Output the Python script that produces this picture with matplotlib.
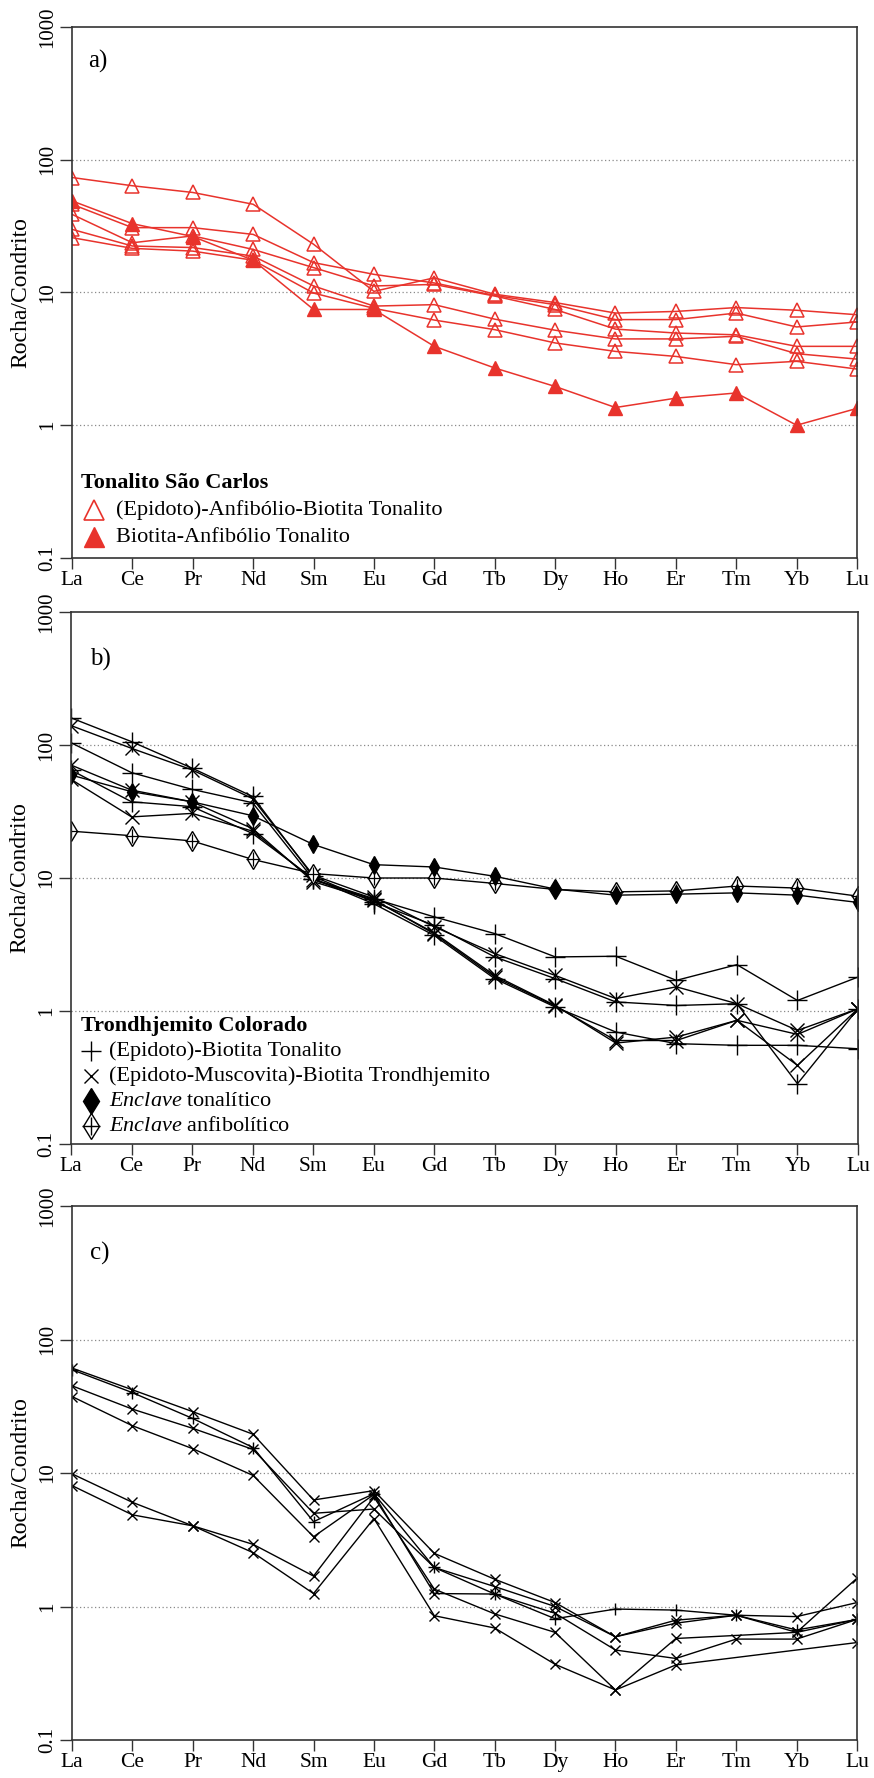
import numpy as np
import matplotlib.pyplot as plt
from matplotlib.ticker import NullLocator

plt.rcParams['font.family'] = ['Liberation Serif', 'DejaVu Serif']
plt.rcParams['mathtext.fontset'] = 'custom'
plt.rcParams['mathtext.rm'] = 'Liberation Serif'
plt.rcParams['mathtext.it'] = 'Liberation Serif:italic'

elements = ['La', 'Ce', 'Pr', 'Nd', 'Sm', 'Eu', 'Gd', 'Tb', 'Dy', 'Ho', 'Er', 'Tm', 'Yb', 'Lu']
yticks = [0.1, 1, 10, 100, 1000]
ytick_labels = ['0.1', '1', '10', '100', '1000']

# a) Tonalito Sao Carlos
a_ep_anf_bt = [
    [73.5, 63.7, 56.7, 46.2, 23.1, 10.2, 12.9, 9.7, 8.4, 7.0, 7.2, 7.7, 7.35, 6.8],
    [46.2, 30.8, 30.8, 27.4, 16.8, 13.7, 11.8, 9.5, 8.1, 6.25, 6.25, 7.0, 5.5, 6.0],
    [38.8, 23.7, 26.7, 21.1, 15.4, 11.2, 11.5, 9.4, 7.45, 5.3, 4.95, 4.8, 3.93, 3.93],
    [29.9, 22.4, 21.8, 18.8, 11.2, 7.9, 8.1, 6.3, 5.2, 4.47, 4.47, 4.68, 3.46, 3.15],
    [25.9, 21.5, 20.5, 17.5, 9.9, 7.6, 6.2, 5.25, 4.17, 3.6, 3.3, 2.86, 3.03, 2.65],
]
a_bt_anf = [
    [49.0, 33.0, 26.4, 17.5, 7.45, 7.45, 3.93, 2.70, 1.96, 1.36, 1.60, 1.75, 1.0, 1.34],
]

# b) Trondhjemito Colorado
b_ep_bt_ton = [
    [104, 62, 46.4, 36.8, 9.8, 7.0, 5.1, 3.82, 2.55, 2.58, 1.70, 2.23, 1.20, 1.80],
    [160, 106, 67, 41, 10.3, 6.6, 4.4, 2.55, 1.75, 1.17, 1.10, 1.135, 0.284, 1.04],
    [64.8, 37.4, 34.4, 21.6, 9.9, 6.4, 3.7, 1.75, 1.07, 0.695, 0.568, 0.552, 0.552, 0.52],
]
b_ep_mu_bt_tdj = [
    [140, 94.4, 65, 39.5, 10.5, 7.2, 4.3, 2.70, 1.85, 1.24, 1.52, 1.135, 0.714, 1.04],
    [70.7, 45.8, 37.4, 23.5, 9.4, 6.8, 3.87, 1.85, 1.10, 0.574, 0.637, 0.851, 0.667, 1.04],
    [55.2, 28.8, 30.6, 22.5, 9.7, 6.9, 3.8, 1.80, 1.09, 0.60, 0.60, 0.851, 0.39, 1.04],
]
b_enc_ton = [59.5, 44.6, 37.4, 29.4, 17.9, 12.6, 12.1, 10.3, 8.25, 7.43, 7.56, 7.73, 7.43, 6.55]
b_enc_anf = [22.5, 20.8, 19.0, 13.8, 10.8, 10.0, 10.0, 9.1, 8.2, 7.87, 8.0, 8.7, 8.4, 7.3]

# c)
nan = np.nan
c_cross = [
    [61.1, 42.0, 28.8, 19.5, 6.28, 7.38, 2.50, 1.60, 1.07, 0.593, 0.75, 0.86, 0.64, 1.63],
    [45.0, 30.1, 21.6, 15.0, 4.99, 5.37, 1.96, 1.41, 1.0, 0.593, 0.79, 0.86, 0.84, 1.07],
    [37.4, 22.6, 15.2, 9.58, 3.33, 6.9, 1.25, 1.24, 0.89, 0.472, 0.408, 0.57, 0.57, 0.80],
    [9.86, 6.03, 4.02, 2.92, 1.69, 6.6, 1.35, 0.88, 0.64, 0.237, 0.576, nan, 0.64, 0.80],
    [8.05, 4.86, 4.02, 2.53, 1.25, 4.56, 0.853, 0.69, 0.369, 0.237, 0.365, nan, nan, 0.537],
]
c_plus = [
    [59.4, 40.0, 25.6, 15.5, 4.32, 7.0, 1.96, 1.24, 0.81, 0.957, 0.94, 0.86, 0.667, 0.80],
]

RED = '#e8332c'
x = np.arange(len(elements))

fig = plt.figure(figsize=(8.74, 17.78), dpi=100)
W, H = 874, 1778


def make_axes(left, right, top, bottom):
    return fig.add_axes([left / W, 1 - bottom / H, (right - left) / W, (bottom - top) / H])


def style_axes(ax):
    ax.set_yscale('log')
    ax.set_xlim(0, len(elements) - 1)
    ax.set_ylim(0.1, 1000)
    ax.set_yticks(yticks)
    ax.set_yticklabels(ytick_labels, rotation=90, va='center', fontsize=15)
    ax.yaxis.set_minor_locator(NullLocator())
    ax.set_xticks(x)
    ax.set_xticklabels(elements, fontsize=15.5, va='center')
    ax.tick_params(axis='x', direction='out', length=8, width=1, pad=8.5, color='#333333')
    ax.tick_params(axis='y', direction='out', length=8.5, width=1, pad=2, color='#333333')
    for s in ax.spines.values():
        s.set_linewidth(1.2)
        s.set_color('#333333')
    for v in [1, 10, 100]:
        ax.axhline(v, color='#8a8a8a', lw=0.9, ls=(0, (1, 2)), zorder=0)
    ax.set_ylabel('Rocha/Condrito', fontsize=17)
    ax.yaxis.set_label_coords(-0.052, 0.5)


def draw_series(ax, values, color, lw, **mk):
    y = np.asarray(values, dtype=float)
    ok = ~np.isnan(y)
    ax.plot(x[ok], y[ok], color=color, lw=lw, **mk)


def legend_block(ax, x0, y0, dy, xm, xt, title, rows, fs):
    ax.text(x0, y0, title, transform=ax.transAxes, fontsize=fs,
            fontweight='bold', ha='left', va='center')
    for i, (styles, label) in enumerate(rows):
        yy = y0 - (i + 1) * dy
        for st in styles:
            ax.plot([xm], [yy], transform=ax.transAxes, clip_on=False, ls='none', **st)
        ax.text(xt, yy, label, transform=ax.transAxes, fontsize=fs, ha='left', va='center')


# ---- a)
ax_a = make_axes(72, 857, 27, 558)
style_axes(ax_a)
open_tri = dict(marker='^', ms=10, mfc='none', mec=RED, mew=1.1)
full_tri = dict(marker='^', ms=10, mfc=RED, mec=RED, mew=1.0)
for s in a_ep_anf_bt:
    draw_series(ax_a, s, RED, 1.1, **open_tri)
for s in a_bt_anf:
    draw_series(ax_a, s, RED, 1.1, **full_tri)
ax_a.text(0.0205, 0.935, 'a)', transform=ax_a.transAxes, fontsize=18, ha='left', va='center')
legend_block(ax_a, 0.0115, 0.141, 0.051, 0.028, 0.056, 'Tonalito São Carlos',
             [([dict(marker='^', ms=15, mfc='none', mec=RED, mew=1.2)],
               '(Epidoto)-Anfibólio-Biotita Tonalito'),
              ([dict(marker='^', ms=15, mfc=RED, mec=RED)],
               'Biotita-Anfibólio Tonalito')], 16)

# ---- b)
ax_b = make_axes(71, 858, 612, 1144)
style_axes(ax_b)
plus_mk = dict(marker='+', ms=14, mec='black', mew=1.0)
cross_mk = dict(marker='x', ms=10, mec='black', mew=1.0)
for s in b_ep_bt_ton:
    draw_series(ax_b, s, 'black', 1.0, **plus_mk)
for s in b_ep_mu_bt_tdj:
    draw_series(ax_b, s, 'black', 1.0, **cross_mk)
draw_series(ax_b, b_enc_anf, 'black', 1.0, marker='d', ms=10, mfc='white', mec='black', mew=1.0)
ax_b.plot(x, b_enc_anf, ls='none', marker='+', ms=10, mec='black', mew=0.9)
draw_series(ax_b, b_enc_ton, 'black', 1.0, marker='d', ms=9, mfc='black', mec='black')
ax_b.text(0.0245, 0.91, 'b)', transform=ax_b.transAxes, fontsize=18, ha='left', va='center')
legend_block(ax_b, 0.0127, 0.2218, 0.047, 0.0254, 0.0483, 'Trondhjemito Colorado',
             [([dict(marker='+', ms=14, mec='black', mew=1.0)], '(Epidoto)-Biotita Tonalito'),
              ([dict(marker='x', ms=10, mec='black', mew=1.0)],
               '(Epidoto-Muscovita)-Biotita Trondhjemito'),
              ([dict(marker='d', ms=13, mfc='black', mec='black'),
                dict(marker='|', ms=15, mec='black', mew=1.0)], r'$\mathit{Enclave}$ tonalítico'),
              ([dict(marker='d', ms=13, mfc='white', mec='black', mew=1.0),
                dict(marker='+', ms=13, mec='black', mew=1.0)], r'$\mathit{Enclave}$ anfibolítico')],
             16)

# ---- c)
ax_c = make_axes(72, 857, 1206, 1740)
style_axes(ax_c)
for s in c_cross:
    draw_series(ax_c, s, 'black', 1.0, marker='x', ms=7, mec='black', mew=1.0)
for s in c_plus:
    draw_series(ax_c, s, 'black', 1.0, marker='+', ms=9, mec='black', mew=1.0)
ax_c.text(0.0235, 0.912, 'c)', transform=ax_c.transAxes, fontsize=18, ha='left', va='center')

fig.savefig('out.png', dpi=100)
